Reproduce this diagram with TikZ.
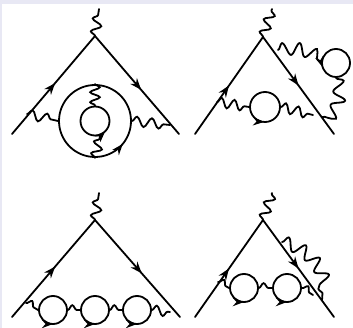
\documentclass[tikz,border=0pt]{standalone}
\usetikzlibrary{arrows.meta,decorations.markings,decorations.pathmorphing}
\definecolor{pageback}{HTML}{E8E8F4}
\begin{document}
\begin{tikzpicture}[>=Stealth,x=1pt,y=-1pt,line width=1.8pt,line cap=round]
  \tikzstyle{fermion}=[postaction={decorate},decoration={markings,mark=at position #1 with {\arrow[scale=1.05]{Stealth}}}]
  \tikzstyle{photon}=[decorate,decoration={snake,segment length=#1,amplitude=4.8pt}]
  \tikzstyle{bigphoton}=[decorate,decoration={snake,segment length=#1,amplitude=6.2pt}]
  \tikzstyle{ring}=[circle,draw,inner sep=0pt,line width=1.8pt,minimum size=#1]
  \tikzstyle{ringarrow}=[postaction={decorate},decoration={markings,mark=at position #1 with {\arrow[scale=0.95]{Stealth}}}]
  % page
  \useasboundingbox (0,0) rectangle (353,328);
  \fill[pageback] (0,0) rectangle (353,328);
  \fill[white] (2,4) rectangle (353,328);
  % top left
  \coordinate (a1) at (95,36);
  \coordinate (a1t) at (99,9);
  \coordinate (a1l) at (12,134);
  \coordinate (a1r) at (179,134);
  \coordinate (a1u) at (27,114);
  \coordinate (a1v) at (170,125);
  \node[ring=72pt,ringarrow=0.89] (outer) at (95,121) {};
  \node[ring=29pt,ringarrow=0.875] (inner) at (95,121) {};
  \draw[fermion=0.52] (a1l) -- (a1);
  \draw[fermion=0.55] (a1) -- (a1r);
  \draw[photon=13pt] (a1) -- (a1t);
  \draw[photon=15pt] (a1u) -- (outer.west);
  \draw[photon=15pt] (outer.east) -- (a1v);
  \draw[photon=10pt] (outer.north) -- (inner.north);
  \draw[photon=12pt] (outer.south) -- (inner.-70);
  % top right
  \coordinate (a2) at (263,37);
  \coordinate (a2t) at (272,9);
  \coordinate (a2l) at (195,134);
  \coordinate (a2r) at (334,134);
  \coordinate (a2u) at (217,102);
  \coordinate (a2v) at (313,115);
  \coordinate (a2w) at (278,50);
  \coordinate (a2x) at (322,117);
  \node[ring=30pt,ringarrow=0.74] (bub) at (265,107) {};
  \node[ring=28pt,ringarrow=0.55] (tad) at (336,63) {};
  \draw[fermion=0.5] (a2l) -- (a2);
  \draw[fermion=0.5] (a2) -- (a2r);
  \draw[photon=13pt] (a2) -- (a2t);
  \draw[photon=13pt] (a2u) -- (bub.west);
  \draw[photon=13pt] (bub.east) -- (a2v);
  \draw[bigphoton=16pt] (a2w) to[bend left=25] (tad.west);
  \draw[bigphoton=17pt] (tad.south) to[bend left=40] (a2x);
  % bottom left
  \coordinate (a3) at (95,220);
  \coordinate (a3t) at (99,193);
  \coordinate (a3l) at (12,317);
  \coordinate (a3r) at (180,317);
  \coordinate (a3u) at (26,303);
  \coordinate (a3v) at (170,312);
  \node[ring=28pt,ringarrow=0.75] (c1) at (53,310) {};
  \node[ring=28pt,ringarrow=0.75] (c2) at (95,310) {};
  \node[ring=28pt,ringarrow=0.75] (c3) at (137,310) {};
  \draw[fermion=0.52] (a3l) -- (a3);
  \draw[fermion=0.55] (a3) -- (a3r);
  \draw[photon=13pt] (a3) -- (a3t);
  \draw[photon=14pt] (a3u) -- (c1.west);
  \draw[photon=14pt] (c1.east) -- (c2.west);
  \draw[photon=14pt] (c2.east) -- (c3.west);
  \draw[photon=14pt] (c3.east) -- (a3v);
  % bottom right
  \coordinate (a4) at (263,220);
  \coordinate (a4t) at (272,193);
  \coordinate (a4l) at (195,317);
  \coordinate (a4r) at (334,317);
  \coordinate (a4u) at (218,282);
  \coordinate (a4v) at (313,295);
  \coordinate (a4w) at (282,242);
  \coordinate (a4x) at (322,300);
  \node[ring=28pt,ringarrow=0.75] (d1) at (244,288) {};
  \node[ring=28pt,ringarrow=0.75] (d2) at (287,288) {};
  \draw[fermion=0.5] (a4l) -- (a4);
  \draw[fermion=0.5] (a4) -- (a4r);
  \draw[photon=13pt] (a4) -- (a4t);
  \draw[photon=14pt] (a4u) -- (d1.west);
  \draw[photon=15pt] (d1.east) -- (d2.west);
  \draw[photon=14pt] (d2.east) -- (a4v);
  \draw[bigphoton=17pt] (a4w) to[bend left=40] (a4x);
\end{tikzpicture}
\end{document}
